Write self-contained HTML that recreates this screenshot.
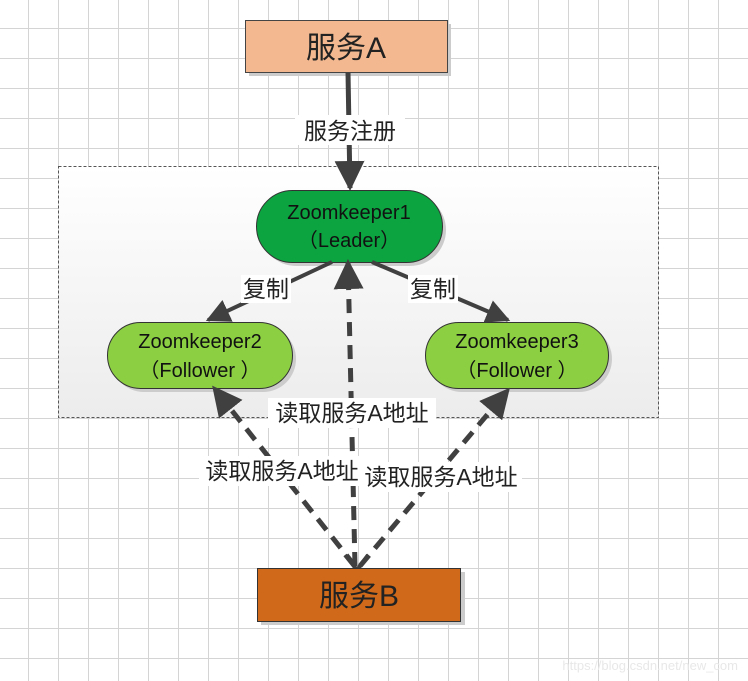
<!DOCTYPE html>
<html><head><meta charset="utf-8"><style>
body{margin:0;width:748px;height:681px;overflow:hidden;background:#fff;
background-image:linear-gradient(#d4d4d4 1px,transparent 1px),linear-gradient(90deg,#d4d4d4 1px,transparent 1px);
background-size:30px 30px;background-position:-2px -2px;font-family:"Liberation Sans","Noto Sans CJK SC",sans-serif;}
svg{position:absolute;left:0;top:0}
</style></head><body>
<svg width="748" height="681" viewBox="0 0 748 681" font-family="Liberation Sans, Noto Sans CJK SC, sans-serif">
<defs>
<linearGradient id="g" x1="0" y1="0" x2="0" y2="1"><stop offset="0" stop-color="#ffffff"/><stop offset="1" stop-color="#ececec"/></linearGradient>
<marker id="a" viewBox="0 0 10 10" refX="9" refY="5" markerWidth="6" markerHeight="6" orient="auto"><path d="M0,0L10,5L0,10z" fill="#404040"/></marker>
</defs>
<rect x="58.5" y="166.5" width="600" height="251" fill="url(#g)" stroke="#555" stroke-dasharray="3,2"/>
<rect x="249" y="24" width="202" height="52" fill="#ccc"/>
<rect x="245.5" y="20.5" width="202" height="52" fill="#f3b88f" stroke="#444"/>
<text x="346" y="58" font-size="30" text-anchor="middle" fill="#222">服务A</text>
<line x1="348" y1="72" x2="350" y2="188" stroke="#404040" stroke-width="5" marker-end="url(#a)"/>
<rect x="295" y="115" width="110" height="30" fill="#fff"/>
<text x="350" y="139" font-size="23" text-anchor="middle" fill="#222">服务注册</text>
<rect x="260" y="194" width="186" height="72" rx="36" fill="#ccc"/>
<rect x="256.5" y="190.5" width="186" height="72" rx="36" fill="#0ca441" stroke="#333"/>
<text x="349" y="219" font-size="20" text-anchor="middle" fill="#111">Zoomkeeper1</text>
<text x="349" y="247" font-size="20" text-anchor="middle" fill="#111">（Leader）</text>
<rect x="111" y="326" width="185" height="66" rx="33" fill="#ccc"/>
<rect x="107.5" y="322.5" width="185" height="66" rx="33" fill="#8ccf42" stroke="#333"/>
<text x="200" y="348" font-size="20" text-anchor="middle" fill="#111">Zoomkeeper2</text>
<text x="200" y="377" font-size="20" text-anchor="middle" fill="#111">（Follower ）</text>
<rect x="429" y="326" width="183" height="66" rx="33" fill="#ccc"/>
<rect x="425.5" y="322.5" width="183" height="66" rx="33" fill="#8ccf42" stroke="#333"/>
<text x="517" y="348" font-size="20" text-anchor="middle" fill="#111">Zoomkeeper3</text>
<text x="517" y="377" font-size="20" text-anchor="middle" fill="#111">（Follower ）</text>
<line x1="332" y1="262" x2="208" y2="320" stroke="#404040" stroke-width="4" marker-end="url(#a)"/>
<line x1="372" y1="262" x2="508" y2="320" stroke="#404040" stroke-width="4" marker-end="url(#a)"/>
<rect x="241" y="275" width="50" height="28" fill="#fff"/>
<text x="266" y="297" font-size="23" text-anchor="middle" fill="#222">复制</text>
<rect x="408" y="275" width="50" height="28" fill="#fff"/>
<text x="433" y="297" font-size="23" text-anchor="middle" fill="#222">复制</text>
<g stroke="#404040" stroke-width="5" stroke-dasharray="14,9" fill="none">
<line x1="355" y1="566" x2="214" y2="388" marker-end="url(#a)"/>
<line x1="355" y1="566" x2="348" y2="262" marker-end="url(#a)"/>
<line x1="360" y1="566" x2="508" y2="390" marker-end="url(#a)"/>
</g>
<path d="M345,555 L357,570 L368,555" stroke="#404040" stroke-width="4" fill="none"/>
<rect x="268" y="398" width="168" height="30" fill="#fff"/>
<text x="352" y="421" font-size="23" text-anchor="middle" fill="#222">读取服务A地址</text>
<rect x="199" y="456" width="166" height="30" fill="#fff"/>
<text x="282" y="479" font-size="23" text-anchor="middle" fill="#222">读取服务A地址</text>
<rect x="362" y="462" width="160" height="30" fill="#fff"/>
<text x="441" y="485" font-size="23" text-anchor="middle" fill="#222">读取服务A地址</text>
<rect x="261" y="572" width="204" height="53" fill="#ccc"/>
<rect x="257.5" y="568.5" width="203" height="53" fill="#d06a1a" stroke="#333"/>
<text x="359" y="606" font-size="30" text-anchor="middle" fill="#222">服务B</text>
<text x="738" y="670" font-size="13" text-anchor="end" fill="#e8e8e8">https://blog.csdn.net/new_com</text>
</svg>
</body></html>
